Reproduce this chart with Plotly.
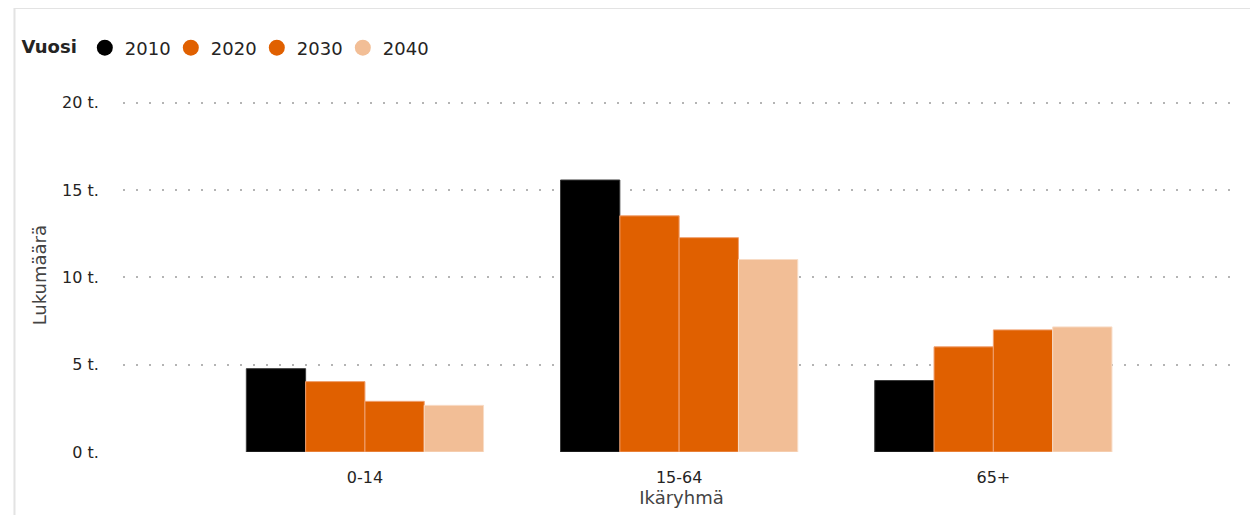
import plotly.graph_objects as go

# Data, persons
age_groups = ["0-14", "15-64", "65+"]
years = ["2010", "2020", "2030", "2040"]
values_2010 = [4770, 15570, 4090]
values_2020 = [4030, 13520, 6020]
values_2030 = [2900, 12270, 6990]
values_2040 = [2670, 11020, 7160]
tick_vals = [0, 5000, 10000, 15000, 20000]
tick_text = ["0 t.", "5 t.", "10 t.", "15 t.", "20 t."]

series = [values_2010, values_2020, values_2030, values_2040]
colors = ["#000000", "#E06000", "#E06000", "#F2BE96"]
line_colors = ["#3a3a3a", "#F0A070", "#F0A070", "#F8DCC6"]

FONT = "DejaVu Sans, sans-serif"
TXT = "#252423"

fig = go.Figure()

for year, vals, col, lcol in zip(years, series, colors, line_colors):
    fig.add_trace(go.Bar(x=age_groups, y=vals, name=year,
                         marker=dict(color=col, line=dict(color=lcol, width=1)),
                         showlegend=False))
    # circle legend entries
    fig.add_trace(go.Scatter(x=[None], y=[None], mode="markers", name=year,
                             marker=dict(symbol="circle", size=16, color=col)))

# page has an 8px body margin, so figure px = page px - 8
OFF = 8
W, H = 1258 - OFF, 515 - OFF
# plot area on the page: x 118..1240, y 100..452
L, R = 118 - OFF, 1258 - 1240
T, B = 100 - OFF, 515 - 452
pw = W - L - R
ph = H - T - B

def px_x(p):
    return (p - OFF - L) / pw

def px_y(p):
    return (H - B - (p - OFF)) / ph

fig.update_layout(
    width=W, height=H,
    margin=dict(l=L, r=R, t=T, b=B),
    paper_bgcolor="white", plot_bgcolor="white",
    font=dict(family=FONT, size=16, color=TXT),
    barmode="group", bargap=0.245, bargroupgap=0,
    legend=dict(orientation="h", x=px_x(14), xanchor="left",
                y=px_y(48), yanchor="middle",
                title=dict(text="<b>Vuosi</b>", font=dict(size=18, color=TXT)),
                font=dict(size=18, color=TXT),
                entrywidth=41, entrywidthmode="pixels",
                itemclick=False),
    xaxis=dict(range=[-0.77, 2.785], showgrid=False, zeroline=False,
               showline=False, ticks="outside", ticklen=11,
               tickcolor="rgba(0,0,0,0)",
               tickfont=dict(size=16, color=TXT),
               title=dict(text="Ikäryhmä", standoff=2,
                          font=dict(size=18, color="#444444"))),
    yaxis=dict(range=[0, 20150], tickvals=tick_vals, ticktext=tick_text,
               showgrid=True, gridcolor="#B4B4B4", griddash="1.5px,11.5px",
               gridwidth=1.5, zeroline=False, showline=False,
               ticks="outside", ticklen=20, tickcolor="rgba(0,0,0,0)",
               tickfont=dict(size=16, color=TXT)),
    annotations=[dict(text="Lukumäärä", xref="paper", yref="paper",
                      x=px_x(34), y=px_y(275), xanchor="center",
                      yanchor="middle", textangle=-90, showarrow=False,
                      font=dict(size=18, color="#444444"))],
    shapes=[dict(type="rect", xref="paper", yref="paper",
                 x0=px_x(9), x1=px_x(1256), y0=px_y(8), y1=px_y(560),
                 line=dict(color="#E3E3E3", width=2), layer="below")],
)

fig.write_html("out.html")
